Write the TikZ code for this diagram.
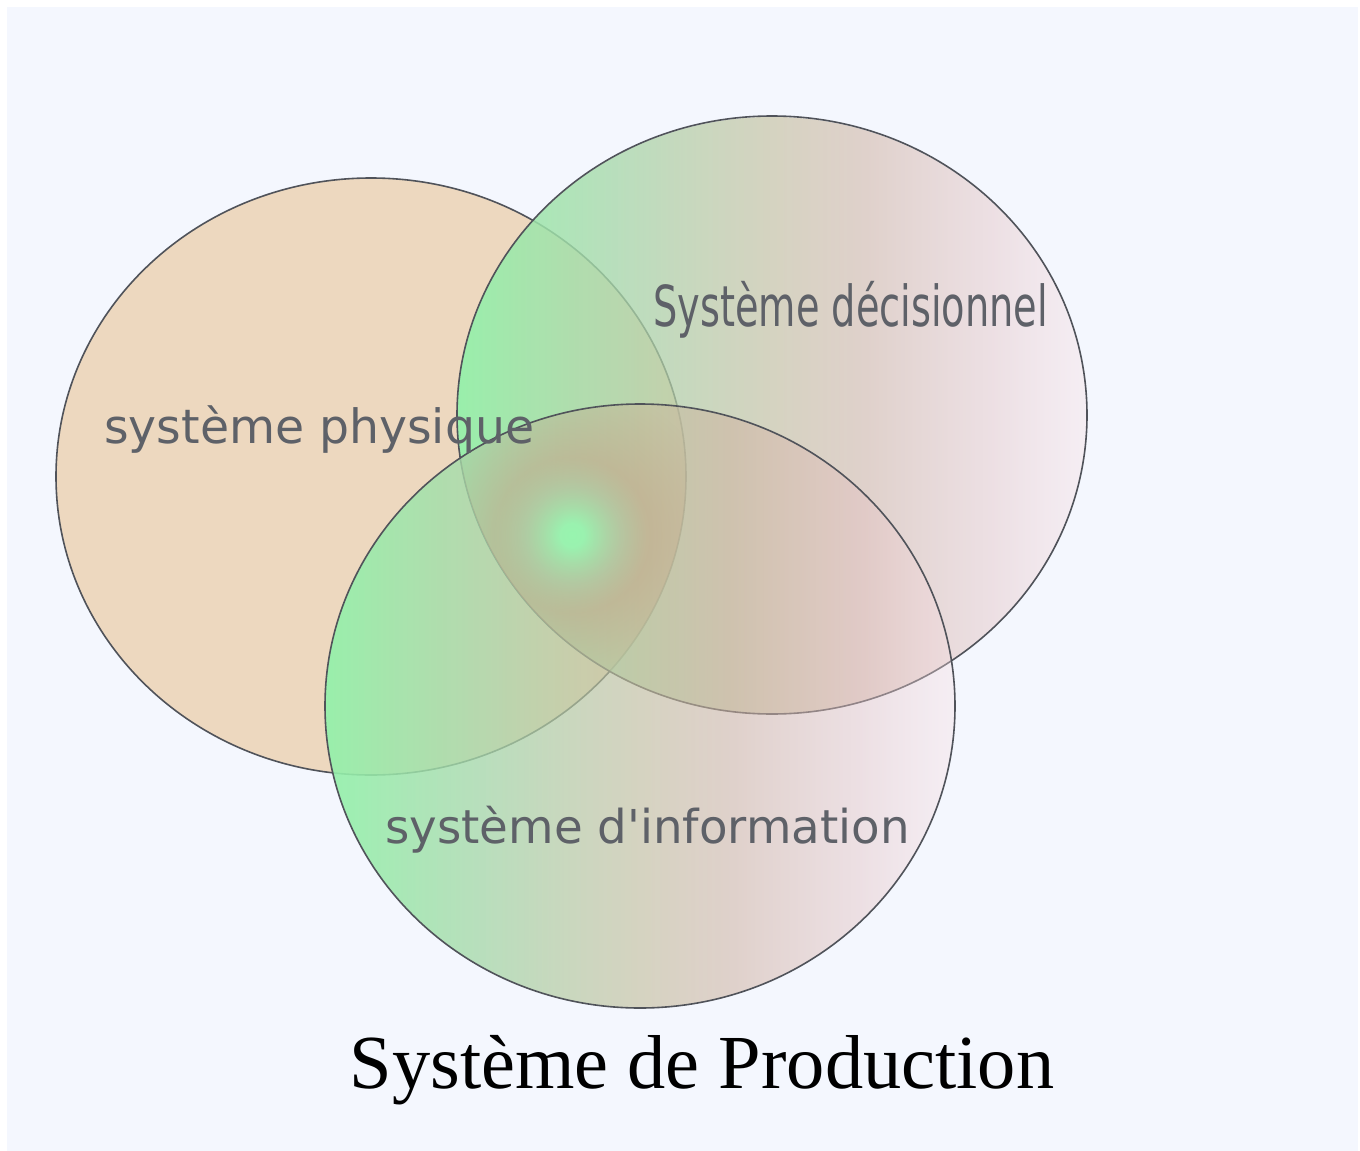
\documentclass[tikz,border=0pt]{standalone}
\usepackage{fontspec}
\setmainfont{Liberation Serif}
\newfontfamily\lblfont{DejaVu Sans}
\usetikzlibrary{fadings}
\definecolor{bgblue}{HTML}{F4F7FE}
\definecolor{tanfill}{HTML}{EDD8BF}
\definecolor{ringgray}{HTML}{50535A}
\definecolor{lblgray}{HTML}{5E6168}
\definecolor{gA}{HTML}{92F2AA}
\definecolor{gB}{HTML}{A8D8AA}
\definecolor{gC}{HTML}{C4BF9E}
\definecolor{gD}{HTML}{CFB3A2}
\definecolor{gE}{HTML}{E4C2C2}
\definecolor{gF}{HTML}{F7DDE1}
\definecolor{glowgreen}{HTML}{98F5B0}
\definecolor{glowmid}{HTML}{B2C6A0}
\definecolor{glowbrown}{HTML}{C4A68A}
\pgfdeclarehorizontalshading{vennshade}{100bp}{color(0bp)=(gA); color(25bp)=(gA); color(37.5bp)=(gB); color(50bp)=(gC); color(57.5bp)=(gD); color(67.5bp)=(gE); color(75bp)=(gF); color(100bp)=(gF)}
\pgfdeclareradialshading{glowshade}{\pgfpointorigin}{color(0bp)=(glowgreen); color(2bp)=(glowgreen); color(8bp)=(glowmid); color(13bp)=(glowbrown); color(25bp)=(glowbrown); color(50bp)=(glowbrown)}
\tikzfading[name=glowfade, inner color=transparent!0, outer color=transparent!100]
\tikzfading[name=vennfade, left color=transparent!8, right color=transparent!65]
\begin{document}
\begin{tikzpicture}[x=1pt,y=-1pt,
  ring/.style={draw=ringgray, line width=1.6pt},
  lbl/.style={inner sep=0pt, anchor=base west, text=lblgray, font=\lblfont\fontsize{47.3}{50}\selectfont},
  venn/.style={shading=vennshade, path fading=vennfade}]
\useasboundingbox (0,0) rectangle (1360,1151);
\fill[white] (0,0) rectangle (1360,1151);
\fill[bgblue] (7,7) rectangle (1358,1151);
\coordinate (cP) at (371,476.5);
\coordinate (cD) at (772,415);
\coordinate (cI) at (640,706);
% physical system
\path[fill=tanfill] (cP) ellipse [x radius=315, y radius=298.5];
\draw[ring] (cP) ellipse [x radius=315, y radius=298.5];
% decision system
\shade[venn] (cD) ellipse [x radius=315, y radius=299];
\draw[ring] (cD) ellipse [x radius=315, y radius=299];
% information system
\shade[venn] (cI) ellipse [x radius=315, y radius=302];
% glow in triple intersection
\begin{scope}
\clip (cP) ellipse [x radius=315, y radius=298.5];
\clip (cD) ellipse [x radius=315, y radius=299];
\clip (cI) ellipse [x radius=315, y radius=302];
\shade[shading=glowshade, path fading=glowfade] (572,535) circle [radius=150];
\end{scope}
\draw[ring] (cI) ellipse [x radius=315, y radius=302];
% labels
\node[lbl] (tP) at (104,443) {système physique};
\node[lbl, font=\lblfont\fontsize{46.7}{50}\selectfont] (tI) at (385,843) {système d'information};
\node[inner sep=0pt, anchor=base west, text=lblgray] (tD) at (653,326)
  {\scalebox{0.678}[1]{\lblfont\fontsize{56.5}{60}\selectfont Système décisionnel}};
\node[inner sep=0pt, anchor=base, text=black, font=\fontsize{76.4}{80}\selectfont] (title) at (702,1088) {Système de Production};
\end{tikzpicture}
\end{document}
